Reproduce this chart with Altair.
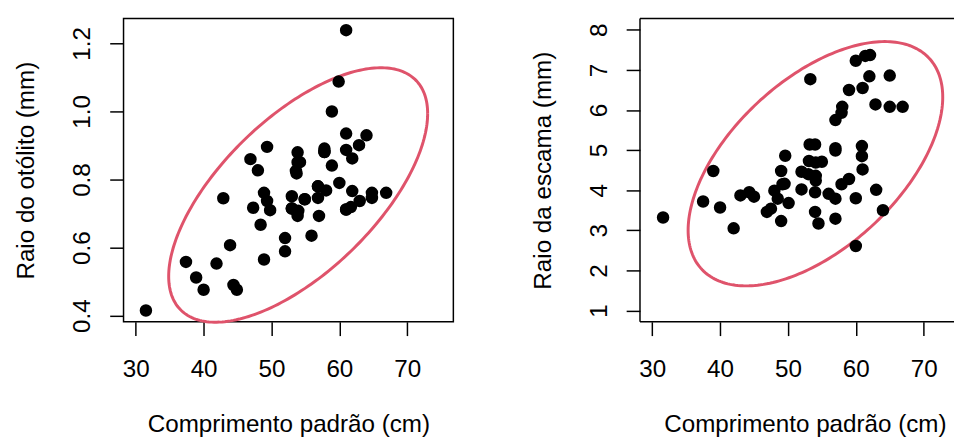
import altair as alt
import numpy as np
import pandas as pd

# ---------------- data ----------------
# Left panel: comprimento padrão (cm) vs raio do otólito (mm)
# (the last six values are points hidden under others in the dense centre)
left_x = [31.5, 37.4, 38.9, 40.0, 41.9, 42.9, 43.9, 44.4, 44.9, 46.9,
          47.3, 48.0, 48.4, 48.9, 48.9, 49.35, 49.35, 49.8, 52.0, 52.0,
          53.0, 53.0, 53.85, 54.2, 53.6, 53.7, 53.95, 53.85, 54.9, 55.9,
          56.85, 56.85, 57.0, 57.8, 57.8, 58.05, 58.9, 58.9, 59.9, 60.0,
          61.0, 61.0, 61.0, 61.9, 62.9, 64.0, 61.9, 61.0, 61.7, 63.0,
          64.8, 64.8, 66.9,
          53.0, 54.9, 56.85, 53.85, 57.8, 61.0]
left_y = [0.415, 0.558, 0.512, 0.476, 0.553, 0.745, 0.607, 0.490, 0.476, 0.860,
          0.717, 0.827, 0.667, 0.565, 0.761, 0.737, 0.896, 0.710, 0.628, 0.589,
          0.751, 0.715, 0.880, 0.851, 0.825, 0.818, 0.708, 0.693, 0.742, 0.635,
          0.780, 0.746, 0.693, 0.891, 0.881, 0.768, 0.841, 1.000, 1.088, 0.790,
          1.239, 0.935, 0.887, 0.862, 0.901, 0.930, 0.766, 0.712, 0.719, 0.737,
          0.761, 0.746, 0.761,
          0.715, 0.742, 0.780, 0.851, 0.881, 0.712]

# Right panel: comprimento padrão (cm) vs raio da escama (mm)
right_x = [31.6, 37.5, 39.0, 40.0, 42.0,
           43.0, 44.3, 45.0,
           46.9, 47.5,
           48.0, 48.5, 49.0, 49.2, 49.5, 49.6, 49.0, 50.1,
           52.0, 52.0, 53.0, 53.3,
           53.1, 54.1, 55.0,
           53.2, 54.0,
           54.1, 54.1, 54.0, 54.0, 54.5,
           56.0, 57.0,
           57.0, 57.0, 57.0, 57.0,
           58.0, 57.9,
           57.9, 59.0,
           59.0, 60.0, 60.0, 60.0,
           61.0, 60.9, 60.9, 61.0,
           61.4, 62.1, 62.0,
           62.9, 63.0, 64.0, 65.0, 65.0, 66.9]
right_y = [3.32, 3.72, 4.48, 3.57, 3.05,
           3.87, 3.95, 3.84,
           3.46, 3.54,
           3.99, 3.79, 4.48, 4.15, 4.16, 4.86, 3.23, 3.68,
           4.02, 4.46, 4.40, 6.77,
           4.73, 4.69, 4.71,
           5.14, 5.14,
           4.36, 4.24, 3.95, 3.46, 3.17,
           3.91, 3.79,
           5.05, 4.99, 3.29, 5.75,
           6.08, 5.93,
           4.15, 4.28,
           6.50, 7.23, 3.80, 2.61,
           6.55, 5.10, 4.85, 4.52,
           7.35, 7.37, 6.84,
           6.14, 4.01, 3.50, 6.86, 6.08, 6.08]

x_ticks = [30, 40, 50, 60, 70]
left_y_ticks = [0.4, 0.6, 0.8, 1.0, 1.2]
right_y_ticks = [1, 2, 3, 4, 5, 6, 7, 8]

x_title = "Comprimento padrão (cm)"
left_y_title = "Raio do otólito (mm)"
right_y_title = "Raio da escama (mm)"

LEVEL = 0.95
ELLIPSE_COLOR = "#DF536B"
FONT = "Liberation Sans"
FS = 24.5


def data_ellipse(xs, ys, level=LEVEL, segments=240):
    """95% data ellipse (as car::dataEllipse): centre = means, shape = sample covariance."""
    xy = np.column_stack([xs, ys]).astype(float)
    n = len(xy)
    center = xy.mean(axis=0)
    cov = np.cov(xy, rowvar=False)
    m = n - 1
    qf = (m / 2.0) * ((1.0 - level) ** (-2.0 / m) - 1.0)  # F(2, n-1) quantile
    radius = np.sqrt(2.0 * qf)
    chol = np.linalg.cholesky(cov).T
    t = np.linspace(0, 2 * np.pi, segments + 1)
    unit = np.column_stack([np.cos(t), np.sin(t)])
    pts = center + radius * unit @ chol
    return pd.DataFrame({"x": pts[:, 0], "y": pts[:, 1], "i": np.arange(len(pts))})


def x_axis():
    return alt.Axis(values=x_ticks, title=x_title, domain=False, grid=False,
                    tickSize=14, tickWidth=1.5, tickColor="black",
                    labelFont=FONT, labelFontSize=FS, labelColor="black",
                    labelPadding=41, labelBaseline="alphabetic",
                    labelFlush=False, labelOverlap=False,
                    titleFont=FONT, titleFontSize=FS, titleFontWeight="normal",
                    titleColor="black", titleBaseline="alphabetic",
                    titleAlign="center", titleX=167, titleY=111)


def y_axis(values, fmt, title):
    return alt.Axis(values=values, format=fmt, title=title, domain=False, grid=False,
                    tickSize=14, tickWidth=1.5, tickColor="black",
                    labelFont=FONT, labelFontSize=FS, labelColor="black",
                    labelAngle=270, labelAlign="center", labelBaseline="alphabetic",
                    labelPadding=20, labelFlush=False, labelOverlap=False,
                    titleFont=FONT, titleFontSize=FS, titleFontWeight="normal",
                    titleColor="black", titleAngle=270, titleAlign="center",
                    titleBaseline="alphabetic", titleX=-91, titleY=153.5)


W, H = 334, 307
XDOM = [28.2, 76.8]
px_per_unit = W / (XDOM[1] - XDOM[0])
W_RIGHT = 318
XDOM_RIGHT = [28.2, 28.2 + W_RIGHT / px_per_unit]


def panel(xs, ys, ydom, yticks, yfmt, ytitle, xdom):
    pts = pd.DataFrame({"x": xs, "y": ys})
    ell = data_ellipse(xs, ys)
    xsc = alt.Scale(domain=xdom, nice=False, zero=False)
    ysc = alt.Scale(domain=ydom, nice=False, zero=False)
    points = alt.Chart(pts).mark_circle(size=160, color="black", opacity=1).encode(
        x=alt.X("x:Q", scale=xsc, axis=x_axis()),
        y=alt.Y("y:Q", scale=ysc, axis=y_axis(yticks, yfmt, ytitle)),
    )
    ellipse = alt.Chart(ell).mark_line(color=ELLIPSE_COLOR, strokeWidth=3).encode(
        x=alt.X("x:Q", scale=xsc), y=alt.Y("y:Q", scale=ysc), order="i:Q"
    )
    return points, ellipse


lp, le = panel(left_x, left_y, [0.382, 1.273], left_y_ticks, ".1f", left_y_title, XDOM)
left = alt.layer(le, lp).properties(width=W, height=H)

rp, re_ = panel(right_x, right_y, [0.72, 8.28], right_y_ticks, "d", right_y_title, XDOM_RIGHT)
one = pd.DataFrame({"k": [0]})
frame_top = alt.Chart(one).mark_rule(color="black", strokeWidth=1.5).encode(
    x=alt.value(0), x2=alt.value(W_RIGHT), y=alt.value(0))
frame_bottom = alt.Chart(one).mark_rule(color="black", strokeWidth=1.5).encode(
    x=alt.value(0), x2=alt.value(W_RIGHT), y=alt.value(H))
frame_left = alt.Chart(one).mark_rule(color="black", strokeWidth=1.5).encode(
    x=alt.value(0), y=alt.value(0), y2=alt.value(H))
right = alt.layer(re_, rp, frame_top, frame_bottom, frame_left).properties(
    width=W_RIGHT, height=H, view=alt.ViewBackground(stroke=None))

chart = alt.hconcat(left, right, spacing=77).properties(
    padding={"left": 5, "top": 7, "right": 0, "bottom": 0}
).configure(
    font=FONT, background="white",
    view=alt.ViewConfig(stroke="black", strokeWidth=1.5),
)

chart.save("out.html", embed_options={"renderer": "svg", "actions": False})
